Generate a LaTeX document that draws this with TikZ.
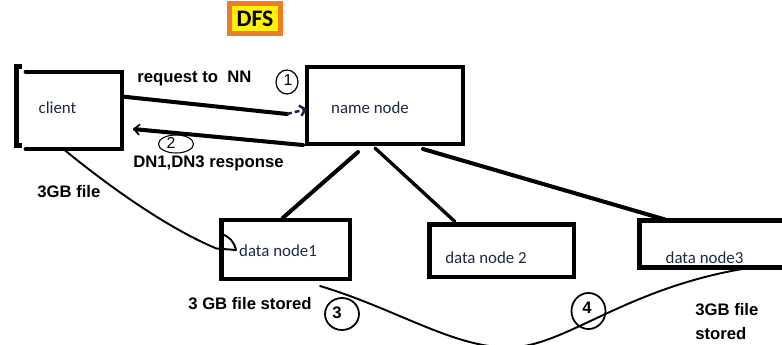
\documentclass[tikz,border=0pt]{standalone}
\usepackage{fontspec}
\setmainfont{Carlito}
\newfontfamily\notefont{Liberation Sans}
\usetikzlibrary{calc, arrows.meta, shapes.geometric}
\definecolor{dfsorange}{RGB}{240,122,40}
\definecolor{dfsyellow}{RGB}{255,242,0}
\definecolor{boxtext}{RGB}{30,40,68}
\definecolor{arrowblue}{RGB}{22,32,72}

\begin{document}
\begin{tikzpicture}[x=0.02cm, y=-0.02cm]
  \tikzset{
    thick_box/.style args={#1x#2}{
      draw=black, line width=2.3pt, minimum width=#1*0.02cm, minimum height=#2*0.02cm, inner sep=0pt
    },
    box_text/.style={text=boxtext, font=\fontsize{9.6}{11}\selectfont, inner sep=0pt, anchor=base},
    bold_note/.style={font=\notefont\bfseries\fontsize{9.5}{13.6}\selectfont, inner sep=0pt, align=left},
    step_ring/.style args={#1x#2}{
      ellipse, draw=black, minimum width=#1*0.02cm, minimum height=#2*0.02cm, inner sep=0pt
    },
    step_num/.style={font=\notefont\fontsize{9}{10}\selectfont, inner sep=0pt, anchor=base},
    fat_line/.style={line width=2.3pt, line cap=round},
    thin_curve/.style={line width=1.1pt, line cap=round}
  }

  \useasboundingbox (0,0) rectangle (782,345);
  \clip (0,0) rectangle (782,345);

  % title
  \node[draw=dfsorange, line width=2.8pt, fill=dfsyellow, minimum width=51*0.02cm, minimum height=30*0.02cm,
        inner sep=0pt, font=\bfseries\fontsize{13.5}{14}\selectfont] (dfs) at (255,18.5) {DFS};

  % client: open box with a bracket on the left
  \node[minimum width=96*0.02cm, minimum height=77*0.02cm, inner sep=0pt] (client) at (74,110.5) {};
  \draw[fat_line] (client.north west) -- (client.north east) -- (client.south east) -- (client.south west);
  \draw[line width=2.8pt] ($(client.north west)+(-4,-5)$) -- ($(client.north west)+(-9,-5)$)
    -- ($(client.south west)+(-9,-4)$) -- ($(client.south west)+(-4,-4)$);
  \node[box_text] (clienttext) at (57.5,113) {client};

  % name node and the data nodes
  \node[thick_box=156x77] (namenode) at (385,105.5) {};
  \node[box_text] (nntext) at (370,113) {name node};
  \foreach \nm/\cx/\cy/\w/\h in {dn1/285.75/249.5/128.5/59, dn2/501.75/250.75/144.5/52.5, dn3/724.75/244/170.5/47}
    \node[thick_box=\w x\h] (\nm) at (\cx,\cy) {};
  \node[box_text] (dn1text) at (278,256) {data node1};
  \node[box_text] (dn2text) at (486,263) {data node 2};
  \node[box_text] (dn3text) at (704.5,263) {data node3};

  % name node down to each data node
  \draw[fat_line] ($(namenode.south)+(-27,6)$) -- ($(dn1.north)+(-3,0)$);
  \draw[fat_line, line width=1.9pt] ($(namenode.south)+(-10,2)$) -- ($(dn2.north)+(-47,-1)$);
  \draw[fat_line] ($(namenode.south)+(38,3)$) -- ($(dn3.north west)+(27.5,1)$);

  % step 1: request
  \node[step_ring=22x24, line width=0.7pt] (ring1) at (287,82) {};
  \node[step_num] (num1) at (288,85) {1};
  \coordinate (reqbend) at (287,114);
  \draw[fat_line] ($(client.north east)+(1,25)$) -- (reqbend);
  \draw[arrowblue, line width=1.4pt, dash pattern=on 2.8pt off 1.7pt, -{Straight Barb[length=3pt, width=6pt]}]
    (reqbend) -- ($(namenode.north west)+(2,44)$);

  % step 2: response
  \node[step_ring=35x18, line width=0.6pt] (ring2) at (176,144) {};
  \node[step_num] (num2) at (171,148) {2};
  \coordinate (resptip) at (133,129);
  \draw[fat_line, -{Straight Barb[length=3pt, width=6pt, line width=1pt]}]
    ($(namenode.south west)+(-2,-1)$) -- (resptip);

  \node[bold_note, anchor=base west] (reqlabel) at (137,82) {request to\ \ NN};
  \node[bold_note, anchor=base west] (resplabel) at (133,167) {DN1,DN3 response};
  \node[bold_note, anchor=base west] (filelabel) at (37,197) {3GB file};
  \node[bold_note, anchor=base west] (storedone) at (188,309) {3 GB file stored};
  \node[bold_note, anchor=north west] (storedthree) at (695,303) {3GB file\\stored};

  % file from the client into data node1
  \coordinate (fileend) at ($(dn1.west)+(16.5,0.5)$);
  \draw[thin_curve] ($(client.south)+(-9,1)$) .. controls (95,175) and (160,225) .. ($(dn1.west)+(-3,-1)$) -- (fileend);
  \draw[thin_curve] ($(dn1.north west)+(2,16)$) to[bend left=30] (fileend);

  % steps 3 and 4: copy from data node1 over to data node3
  \coordinate (dip) at (517,347);
  \draw[thin_curve] ($(dn1.south east)+(-32,5)$) .. controls (400,310) and (460,352) .. (dip)
    .. controls (570,342) and (630,287) .. ($(dn3.south west)+(110.5,-1.5)$);
  \node[step_ring=34x32, line width=1pt] (ring3) at (342,314) {};
  \node[step_num, font=\notefont\bfseries\fontsize{9.5}{10}\selectfont] (num3) at (337,318) {3};
  \node[step_ring=34x36, line width=1pt] (ring4) at (588.5,311) {};
  \node[step_num, font=\notefont\bfseries\fontsize{9.5}{10}\selectfont] (num4) at (587,313) {4};
\end{tikzpicture}
\end{document}
